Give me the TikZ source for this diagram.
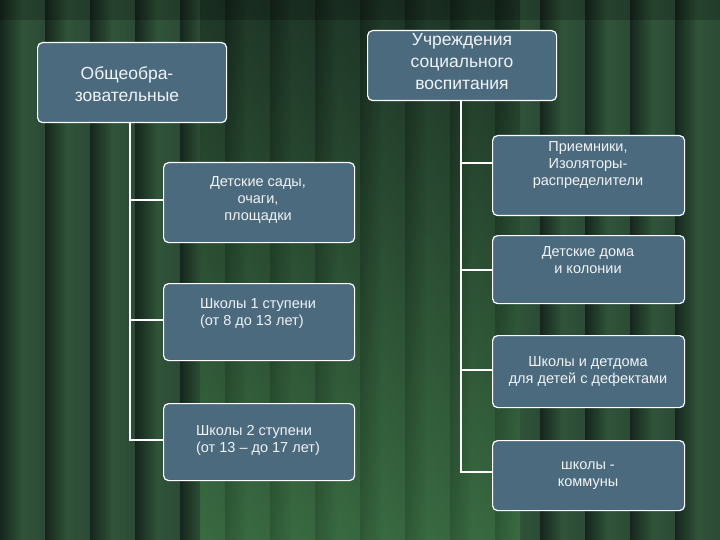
\documentclass[tikz,border=0pt]{standalone}
\usepackage{fontspec}
\setmainfont{Liberation Sans}
\begin{document}
\begin{tikzpicture}[x=1pt,y=-1pt,
  box/.style={draw=white,line width=1.2pt,fill=boxc,rounded corners=5pt,anchor=north west,inner sep=0pt},
  txt/.style={text=white!92!boxc,align=center,font=\fontsize{14.5}{17}\selectfont},
  conn/.style={draw=white,line width=1.2pt}]
\definecolor{boxc}{HTML}{4B6A7E}
\definecolor{dk}{HTML}{15261C}
\definecolor{md}{HTML}{2C4A36}
\definecolor{lt}{HTML}{3F7A46}
\useasboundingbox (0,0) rectangle (720,540);
\fill[dk] (0,0) rectangle (720,540);
\foreach \x in {0,45,...,675}{
  \shade[left color=dk,right color=md,middle color=md!80!lt] (\x,0) rectangle (\x+45,540);
}
\shade[top color=dk,bottom color=lt,opacity=0.6] (200,0) rectangle (520,540);
\fill[black,opacity=0.2] (0,0) rectangle (720,20);
% boxes
\node[box,minimum width=189pt,minimum height=80pt] (a) at (37,42) {};
\node[box,minimum width=189pt,minimum height=70pt] (b) at (367,30) {};
\node[box,minimum width=191pt,minimum height=80pt] (c) at (163,162) {};
\node[box,minimum width=192pt,minimum height=80pt] (d) at (492,135) {};
\node[box,minimum width=192pt,minimum height=68pt] (e) at (492,235) {};
\node[box,minimum width=191pt,minimum height=77pt] (f) at (163,283) {};
\node[box,minimum width=192pt,minimum height=72pt] (g) at (492,335) {};
\node[box,minimum width=191pt,minimum height=77pt] (h) at (163,403) {};
\node[box,minimum width=192pt,minimum height=70pt] (i) at (492,440) {};
% texts
\node[txt,font=\fontsize{17.5}{22}\selectfont] (ta) at (127,84) {Общеобра-\\зовательные};
\node[txt,font=\fontsize{17.5}{22}\selectfont] (tb) at (462,62) {Учреждения\\социального\\воспитания};
\node[txt] (tc) at (258,200) {Детские сады,\\очаги,\\площадки};
\node[txt] (td) at (588,165) {Приемники,\\Изоляторы-\\распределители};
\node[txt] (te) at (588,260) {Детские дома\\и колонии};
\node[txt,align=left] (tf) at (258,314) {Школы 1 ступени\\(от 8 до 13 лет)};
\node[txt] (tg) at (588,372) {Школы и детдома\\для детей с дефектами};
\node[txt,align=left] (th) at (258,440) {Школы 2 ступени\\(от 13 -- до 17 лет)};
\node[txt] (ti) at (588,476) {школы -\\коммуны};
% connectors
\coordinate (l1) at (130,440);
\draw[conn] (a.south -| l1) -- (l1) -- (h.west |- l1);
\draw[conn] (130,200) -- (c.west |- 0,200);
\draw[conn] (130,320) -- (f.west |- 0,320);
\coordinate (r1) at (461,472);
\draw[conn] (b.south -| r1) -- (r1) -- (i.west |- r1);
\draw[conn] (461,163) -- (d.west |- 0,163);
\draw[conn] (461,270) -- (e.west |- 0,270);
\draw[conn] (461,370) -- (g.west |- 0,370);
\end{tikzpicture}
\end{document}
